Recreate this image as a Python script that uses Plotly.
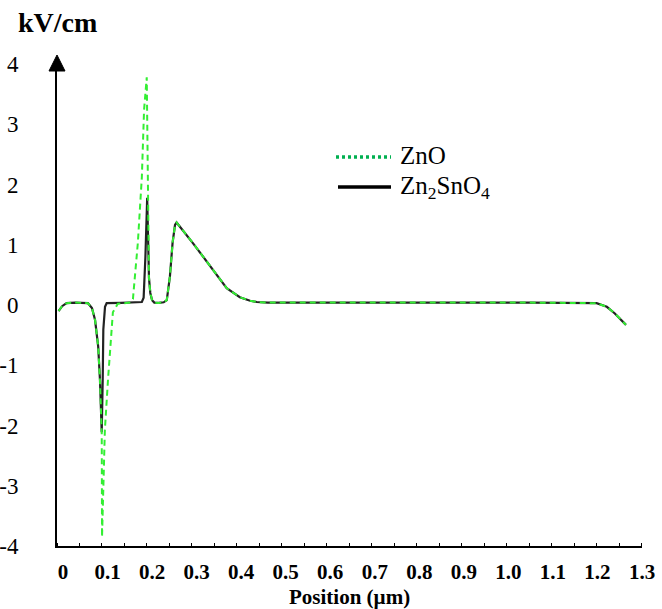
import plotly.graph_objects as go

# ---- data (position in µm, field in kV/cm) ----
pos_zto = [-0.010, -0.002, 0.008, 0.027, 0.056, 0.065, 0.072, 0.079, 0.083, 0.0853,
           0.0869, 0.0891, 0.0905, 0.0943, 0.098, 0.130, 0.177, 0.181, 0.185, 0.189,
           0.191, 0.193, 0.196, 0.200, 0.205, 0.215, 0.226, 0.233, 0.240, 0.246,
           0.2515, 0.255, 0.2925, 0.330, 0.3675, 0.397, 0.420, 0.435, 0.460, 0.600,
           0.800, 1.000, 1.026, 1.050, 1.198, 1.221, 1.239, 1.254, 1.264]
e_zto = [-0.10, -0.02, 0.03, 0.04, 0.03, -0.05, -0.25, -0.69, -1.25, -1.79,
         -2.11, -1.25, -0.41, -0.03, 0.03, 0.035, 0.05, 0.12, 0.80, 1.78,
         1.00, 0.45, 0.20, 0.08, 0.04, 0.035, 0.045, 0.08, 0.47, 1.03,
         1.33, 1.37, 1.02, 0.64, 0.28, 0.13, 0.07, 0.05, 0.04, 0.04,
         0.04, 0.04, 0.05, 0.04, 0.03, -0.03, -0.14, -0.25, -0.33]

pos_zno = [-0.010, -0.002, 0.008, 0.027, 0.056, 0.065, 0.072, 0.079, 0.083, 0.0853,
           0.0869, 0.0876, 0.094, 0.101, 0.1055, 0.112, 0.123, 0.150, 0.157, 0.168,
           0.177, 0.182, 0.188, 0.1905, 0.193, 0.196, 0.200, 0.205, 0.215, 0.226,
           0.233, 0.240, 0.246, 0.2515, 0.255, 0.2925, 0.330, 0.3675, 0.397, 0.420,
           0.435, 0.460, 0.600, 0.800, 1.000, 1.026, 1.050, 1.198, 1.221, 1.239,
           1.254, 1.264]
e_zno = [-0.10, -0.02, 0.03, 0.04, 0.03, -0.05, -0.25, -0.69, -1.25, -1.79,
         -2.11, -3.85, -2.07, -1.24, -0.70, -0.12, 0.02, 0.04, 0.10, 1.03,
         2.12, 3.24, 3.78, 1.60, 0.45, 0.20, 0.08, 0.04, 0.035, 0.045,
         0.08, 0.47, 1.03, 1.33, 1.37, 1.02, 0.64, 0.28, 0.13, 0.07,
         0.05, 0.04, 0.04, 0.04, 0.04, 0.05, 0.04, 0.03, -0.03, -0.14,
         -0.25, -0.33]

x_ticks = [0, 0.1, 0.2, 0.3, 0.4, 0.5, 0.6, 0.7, 0.8, 0.9, 1.0, 1.1, 1.2, 1.3]
x_tick_text = ["0", "0.1", "0.2", "0.3", "0.4", "0.5", "0.6", "0.7", "0.8", "0.9",
               "1.0", "1.1", "1.2", "1.3"]
y_ticks = [-4, -3, -2, -1, 0, 1, 2, 3, 4]
y_tick_text = ["-4", "-3", "-2", "-1", "0", "1", "2", "3", "4"]

FONT = "Liberation Serif"
W, H = 662, 609
ML, MR, MT, MB = 57, 20, 64, 63
PW, PH = W - ML - MR, H - MT - MB


def px(xp):
    return (xp - ML) / PW


def py(yp):
    return (H - MB - yp) / PH


fig = go.Figure()
fig.add_trace(go.Scatter(x=pos_zto, y=e_zto, mode="lines", name="Zn2SnO4",
                         line=dict(color="#222222", width=2.2), showlegend=False))
fig.add_trace(go.Scatter(x=pos_zno, y=e_zno, mode="lines", name="ZnO",
                         line=dict(color="#33ee33", width=2, dash="6px,4px"),
                         showlegend=False))

fig.update_layout(
    width=W, height=H,
    margin=dict(l=ML, r=MR, t=MT, b=MB, pad=0, autoexpand=False),
    paper_bgcolor="white", plot_bgcolor="white",
    font=dict(family=FONT, color="black"),
    xaxis=dict(range=[-0.0135, 1.3], tickmode="array", tickvals=x_ticks,
               ticktext=x_tick_text, ticks="", showgrid=False, zeroline=False,
               showline=True, linecolor="black", linewidth=2, automargin=False,
               tickfont=dict(family=FONT, size=21, color="black", weight="bold"),
               ticklabelstandoff=6,
               minor=dict(ticks="inside", ticklen=3, tickcolor="black",
                          tickmode="linear", tick0=-0.0135, dtick=0.0505,
                          showgrid=False)),
    yaxis=dict(range=[-4, 4], tickmode="array", tickvals=y_ticks,
               ticktext=y_tick_text, ticks="", showgrid=False, zeroline=False,
               showline=True, linecolor="black", linewidth=2, automargin=False,
               tickfont=dict(family=FONT, size=23, color="black"),
               ticklabelstandoff=32),
)

# y-axis arrow head
ax0 = px(57)
hw = 8 / PW
fig.add_shape(type="path", xref="paper", yref="paper",
              path=f"M {ax0-hw},{py(71)} L {ax0},{py(55)} L {ax0+hw},{py(71)} Z",
              fillcolor="black", line=dict(color="black", width=1))

# legend drawn by hand
fig.add_shape(type="line", xref="paper", yref="paper",
              x0=px(336), x1=px(391), y0=py(157), y1=py(157),
              line=dict(color="#00b050", width=3.5, dash="3px,3px"))
fig.add_shape(type="line", xref="paper", yref="paper",
              x0=px(338), x1=px(391), y0=py(187), y1=py(187),
              line=dict(color="black", width=3.5))
fig.add_annotation(xref="paper", yref="paper", x=px(398), y=py(155),
                   text="ZnO", showarrow=False, xanchor="left", yanchor="middle",
                   font=dict(family=FONT, size=25, color="black"))
fig.add_annotation(xref="paper", yref="paper", x=px(398), y=py(187),
                   text="Zn<sub>2</sub>SnO<sub>4</sub>", showarrow=False,
                   xanchor="left", yanchor="middle",
                   font=dict(family=FONT, size=25, color="black"))

# axis titles
fig.add_annotation(xref="paper", yref="paper", x=px(16), y=py(22),
                   text="<b>kV/cm</b>", showarrow=False, xanchor="left",
                   yanchor="middle", font=dict(family=FONT, size=28, color="black"))
fig.add_annotation(xref="paper", yref="paper", x=px(349), y=py(597),
                   text="<b>Position (µm)</b>", showarrow=False, xanchor="center",
                   yanchor="middle", font=dict(family=FONT, size=21, color="black"))

fig.write_html("out.html",
               config={"displayModeBar": False},
               post_script="document.body.style.margin='0';"
                           "document.body.style.overflow='hidden';")
